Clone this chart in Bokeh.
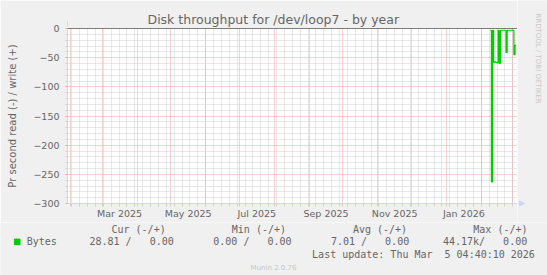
import math
import pandas as pd
from bokeh.plotting import figure
from bokeh.layouts import column, row
from bokeh.core.properties import value
from bokeh.models import (Range1d, FixedTicker, DatetimeTickFormatter, Span, Arrow, NormalHead)
from bokeh.embed import file_html
from bokeh.resources import INLINE

# ---------------- data ----------------
title_text = "Disk throughput for /dev/loop7 - by year"
y_label = "Pr second read (-) / write (+)"
graph_end = "2026-03-05 04:40:10"
span_days = 400
x_label_months = ["2025-03", "2025-05", "2025-07", "2025-09", "2025-11", "2026-01"]
y_major = [-300, -250, -200, -150, -100, -50, 0]
y_minor_step = 10

series_name = "Bytes"
read_dates = ["2026-02-09", "2026-02-10", "2026-02-11", "2026-02-12", "2026-02-13",
              "2026-02-14", "2026-02-15", "2026-02-16", "2026-02-17", "2026-02-18",
              "2026-02-19", "2026-02-20", "2026-02-21", "2026-02-22", "2026-02-23",
              "2026-02-24", "2026-02-25", "2026-02-26", "2026-02-27", "2026-02-28",
              "2026-03-01", "2026-03-02", "2026-03-03", "2026-03-04"]
read_rate = [3, 263, 3, 58, 57, 58, 59, 3, 60, 3,
             3, 3, 3, 3, 41, 3, 3, 3, 3, 3,
             3, 45, 28.81, 28.81]          # read, drawn below zero

stat_headers = ["Cur (-/+)", "Min (-/+)", "Avg (-/+)", "Max (-/+)"]
stat_values = ["28.81 /   0.00", "0.00 /   0.00", "7.01 /   0.00", "44.17k/   0.00"]
update_text = "Last update: Thu Mar  5 04:40:10 2026"
munin_version = "Munin 2.0.76"
watermark = "RRDTOOL / TOBI OETIKER"

# ---------------- styling ----------------
FONT = "#666666"
AXIS = "#CFD6F8"
MGRID = "#F0A0A0"
GRID = "#D0D0D0"
LINE = "#00CC00"
WATER = "#C7C7C7"
BACK = "#F0F0F0"
SANS = "DejaVu Sans"
MONO = "DejaVu Sans Mono"

W, H = 547, 275
CW, CH = 517, 222                  # chart figure size
FL, FT, FR, FB = 67, 28, 517, 203  # frame edges in canvas px


def ms(t):
    return pd.Timestamp(t).value / 1e6


def keep_spaces(s):
    # SVG collapses runs of blanks; a no-break space keeps the monospace columns
    return s.replace(" ", "\u00a0")


END = pd.Timestamp(graph_end)
START = END - pd.Timedelta(days=span_days)

month_starts = [ms(t) for t in pd.date_range(START.normalize(), END, freq="MS") if t >= START]
sundays = [ms(t) for t in pd.date_range(START.normalize(), END, freq="W-SUN") if t >= START]
label_ticks = []
for m in x_label_months:
    a = pd.Timestamp(m + "-01")
    b = a + pd.offsets.MonthBegin(1)
    label_ticks.append(ms(a + (b - a) / 2))
y_minor = [v for v in range(y_major[0], y_major[-1] + 1, y_minor_step) if v not in y_major]

p = figure(width=CW, height=CH, x_axis_type="datetime",
           x_range=Range1d(ms(START), ms(END)), y_range=Range1d(y_major[0], y_major[-1]),
           output_backend="svg", toolbar_location=None, frame_align=False,
           min_border_left=FL, min_border_right=CW - FR, min_border_top=FT, min_border_bottom=CH - FB,
           background_fill_color="#FFFFFF", border_fill_color=BACK,
           outline_line_color=None, title=title_text)

p.title.text_font = SANS
p.title.text_font_size = "12.5px"
p.title.text_font_style = "normal"
p.title.text_color = FONT
p.title.align = "left"
p.title.offset = 80
p.title.standoff = 4

# grids: month starts (major) and Sundays (minor); every 50 / every 10 on y
xt = FixedTicker(ticks=month_starts, minor_ticks=sundays)
yt = FixedTicker(ticks=y_major, minor_ticks=y_minor)
for g, t in ((p.xgrid[0], xt), (p.ygrid[0], yt)):
    g.ticker = t
    g.grid_line_color = MGRID
    g.grid_line_dash = "1 1"
    g.minor_grid_line_color = GRID
    g.minor_grid_line_dash = "1 1"

# x axis: labels centred in their month, small marks at the grid positions
xa = p.xaxis[0]
xa.ticker = FixedTicker(ticks=label_ticks, minor_ticks=sorted(set(sundays) | set(month_starts)))
xa.formatter = DatetimeTickFormatter(days="%b %Y", months="%b %Y", years="%b %Y",
                                     hours="%b %Y", context=None)
xa.major_tick_in = 0
xa.major_tick_out = 0
xa.minor_tick_in = 0
xa.minor_tick_out = 3
xa.minor_tick_line_color = GRID
xa.axis_line_color = AXIS
xa.major_label_standoff = 1
xa.major_label_text_font = SANS
xa.major_label_text_font_size = "9.5px"
xa.major_label_text_color = FONT

ya = p.yaxis[0]
ya.ticker = yt
ya.major_tick_in = 0
ya.major_tick_out = 2
ya.major_tick_line_color = MGRID
ya.minor_tick_in = 0
ya.minor_tick_out = 2
ya.minor_tick_line_color = GRID
ya.axis_line_color = AXIS
ya.major_label_standoff = 6
ya.major_label_text_font = SANS
ya.major_label_text_font_size = "9.5px"
ya.major_label_text_color = FONT
ya.axis_label = y_label
ya.axis_label_text_font = SANS
ya.axis_label_text_font_size = "10px"
ya.axis_label_text_font_style = "normal"
ya.axis_label_text_color = FONT
ya.axis_label_standoff = 12

# data
xs = [ms(d) for d in read_dates]
ys = [-v for v in read_rate]
p.step(xs, ys, mode="after", line_color=LINE, line_width=1.2)
p.add_layout(Span(location=0, dimension="width", line_color="#000000", line_width=1))

# arrow head on top of the y axis (kept in a side panel so it is not clipped)
p.add_layout(Arrow(end=NormalHead(size=5, fill_color=AXIS, line_color=AXIS),
                   x_start=0, y_start=FB - FT, x_end=0, y_end=FB - 21,
                   start_units="screen", end_units="screen", line_color=AXIS), "left")


def blank_fig(w, h):
    f = figure(width=w, height=h, x_range=Range1d(0, w), y_range=Range1d(h, 0),
               output_backend="svg", toolbar_location=None, min_border=0, frame_align=False,
               x_axis_location=None, y_axis_location=None,
               background_fill_color=BACK, border_fill_color=BACK, outline_line_color=None)
    f.grid.visible = False
    return f


# strip right of the chart: x-axis arrow head and the rrdtool watermark
wm = blank_fig(W - CW, CH)
wm.segment(x0=[0], y0=[FB], x1=[2], y1=[FB], line_color=AXIS, line_width=1)
wm.patch(x=[2, 7, 2], y=[FB - 2.5, FB, FB + 2.5], fill_color=AXIS, line_color=AXIS)
wm.text(x=[537.5 - CW], y=[58], text=[watermark], angle=-math.pi / 2,
        text_font=value(SANS), text_font_size=value("7px"), text_color=WATER,
        text_align="center", text_baseline="middle")

# legend table below the chart
LH = H - CH
lg = blank_fig(W, LH)
mono = dict(text_font=value(MONO), text_font_size=value("10px"), text_color=FONT,
            text_align="left", text_baseline="middle")
hdr_x = [111, 231.3, 352.4, 472.8]
val_x = [89, 212.8, 330.4, 442.4]
lg.text(x=hdr_x, y=[229.2 - CH] * len(hdr_x), text=[keep_spaces(s) for s in stat_headers], **mono)
lg.text(x=val_x, y=[241.4 - CH] * len(val_x), text=[keep_spaces(s) for s in stat_values], **mono)
lg.text(x=[26.2], y=[241.4 - CH], text=[series_name], **mono)
lg.text(x=[311.6], y=[254.3 - CH], text=[keep_spaces(update_text)], **mono)
lg.quad(left=[14], right=[19.5], top=[238.6 - CH], bottom=[244.2 - CH],
        fill_color=LINE, line_color=LINE)
lg.text(x=[273], y=[267.6 - CH], text=[munin_version], text_font=value(SANS),
        text_font_size=value("7px"), text_color=WATER, text_align="center", text_baseline="middle")

layout = column(row(p, wm, spacing=0), lg, spacing=0)
open("out.html", "w").write(file_html(layout, INLINE))
